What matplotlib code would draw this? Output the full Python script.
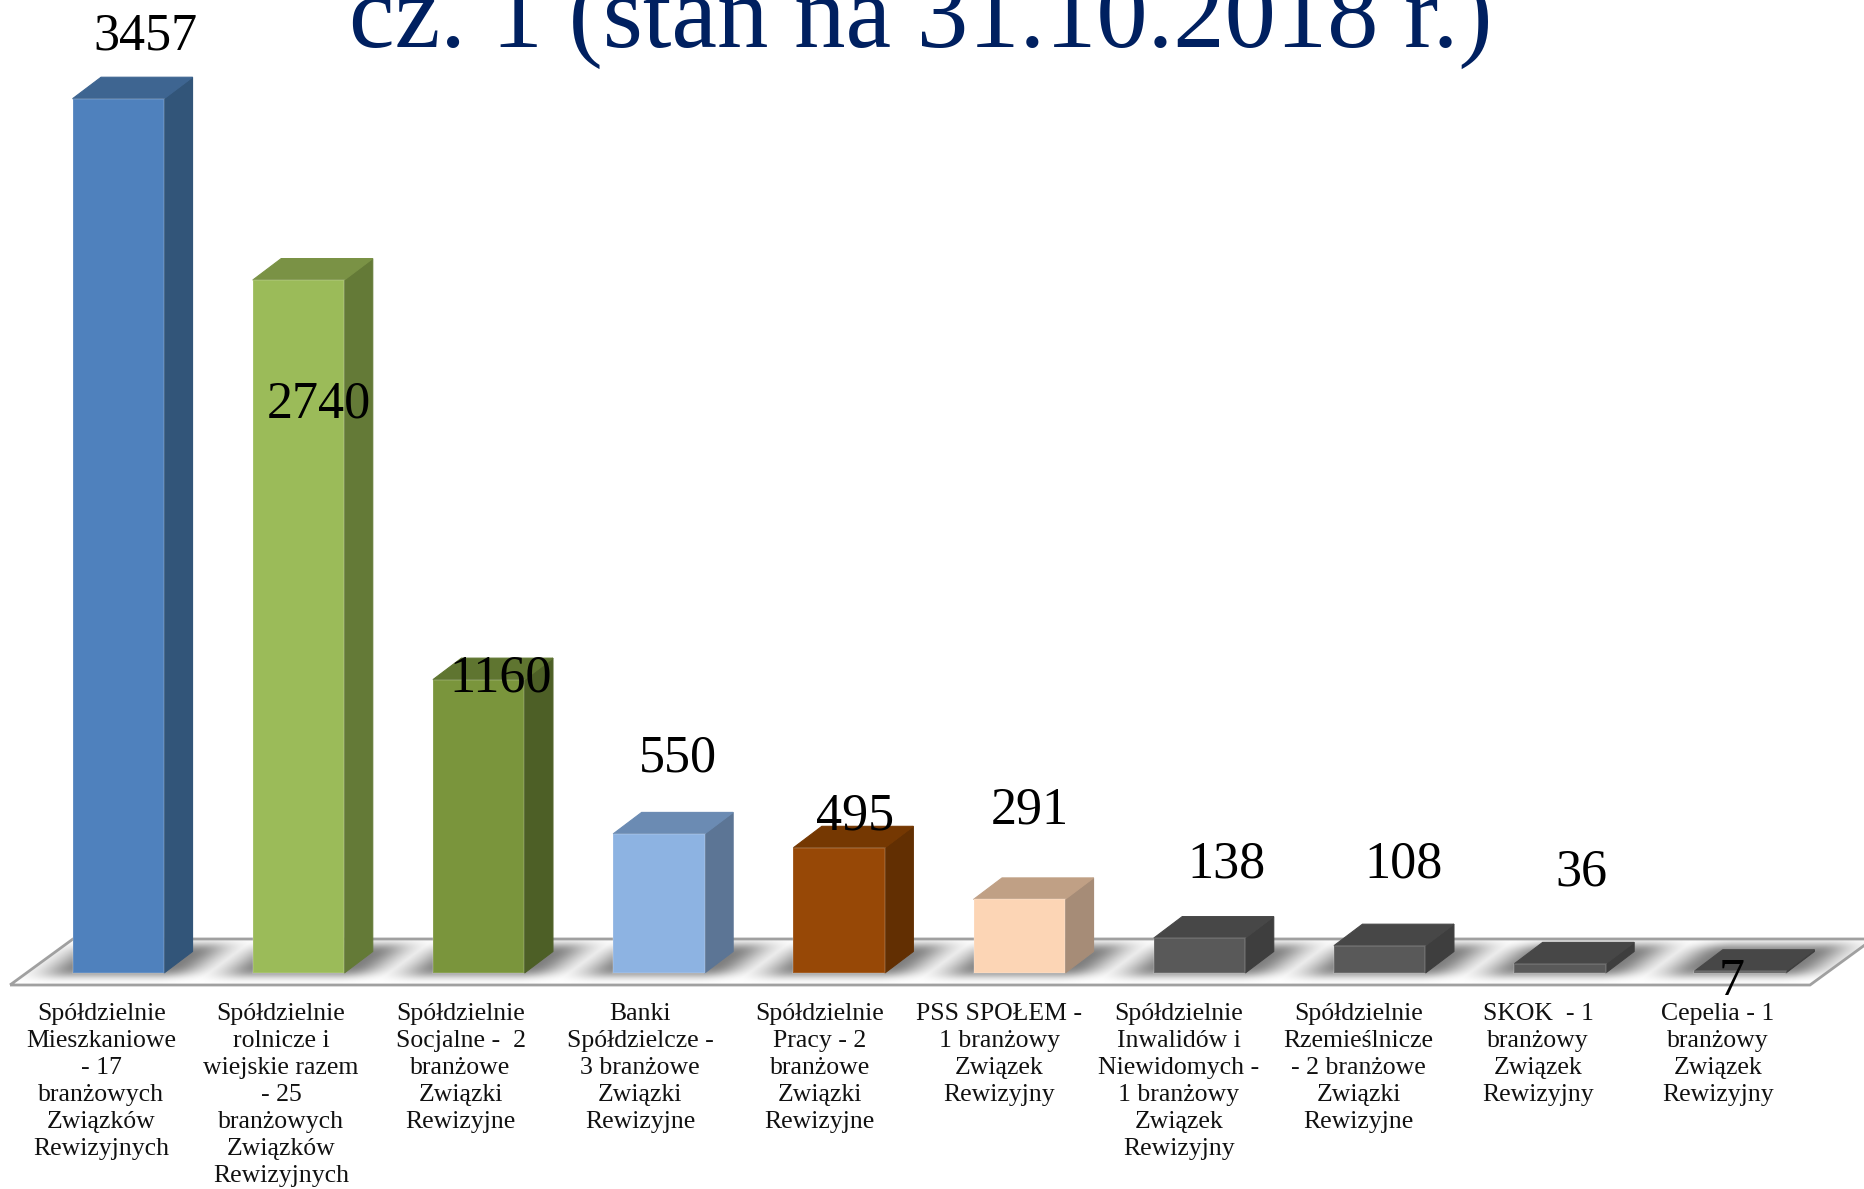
import numpy as np
import matplotlib
matplotlib.use('Agg')
import matplotlib.pyplot as plt
from matplotlib.patches import Polygon

title = 'cz. 1 (stan na 31.10.2018 r.)'
values = [3457, 2740, 1160, 550, 495, 291, 138, 108, 36, 7]
categories = [
    'Spółdzielnie\nMieszkaniowe\n- 17\nbranżowych\nZwiązków\nRewizyjnych',
    'Spółdzielnie\nrolnicze i\nwiejskie razem\n- 25\nbranżowych\nZwiązków\nRewizyjnych',
    'Spółdzielnie\nSocjalne -  2\nbranżowe\nZwiązki\nRewizyjne',
    'Banki\nSpółdzielcze -\n3 branżowe\nZwiązki\nRewizyjne',
    'Spółdzielnie\nPracy - 2\nbranżowe\nZwiązki\nRewizyjne',
    'PSS SPOŁEM -\n1 branżowy\nZwiązek\nRewizyjny',
    'Spółdzielnie\nInwalidów i\nNiewidomych -\n1 branżowy\nZwiązek\nRewizyjny',
    'Spółdzielnie\nRzemieślnicze\n- 2 branżowe\nZwiązki\nRewizyjne',
    'SKOK  - 1\nbranżowy\nZwiązek\nRewizyjny',
    'Cepelia - 1\nbranżowy\nZwiązek\nRewizyjny',
]
front_colors = ['#4f81bd', '#9bbb59', '#7a953c', '#8db3e2', '#974806',
                '#fcd5b5', '#595959', '#595959', '#595959', '#595959']
side_colors = ['#325579', '#647a37', '#4d5f26', '#5c7595', '#622f02',
               '#a68c77', '#3e3e3e', '#3e3e3e', '#3e3e3e', '#3e3e3e']
top_colors = ['#3e6591', '#7a9245', '#5f7530', '#6b8bb3', '#753802',
              '#c0a085', '#474747', '#474747', '#474747', '#474747']

W, H = 1864, 1189
px_per_cat = 180.2
px_per_val = 0.2529
x0_px = 118.3   # first bar centre
y0_px = 973     # base of the bars

fig = plt.figure(figsize=(W / 100, H / 100), dpi=100, facecolor='white')
ax = fig.add_axes([0, 0, 1, 1])
ax.axis('off')

bar_w = 91.5 / px_per_cat
dx = 28.5 / px_per_cat
dy = 21.5 / px_per_val
floor_front = -12 / px_per_val
floor_back = 34 / px_per_val
floor_dx = 63 / px_per_cat
floor_left = (10 - x0_px) / px_per_cat
floor_right = (1810 - x0_px) / px_per_cat
xs = np.arange(len(values))

xlim = (-x0_px / px_per_cat, (W - x0_px) / px_per_cat)
ylim = ((y0_px - H) / px_per_val, y0_px / px_per_val)

# floor with the soft slanted shadows
gx = np.linspace(xlim[0], xlim[1], 1400)
gy = np.linspace(floor_front, floor_back, 120)
X, Y = np.meshgrid(gx, gy)
U = X - Y * dx / dy
dist = np.min([np.maximum(np.abs(U - i) - bar_w / 2, 0) for i in xs], axis=0)
shade = np.exp(-(dist / 0.18) ** 2)
band = np.exp(-((Y - 13 / px_per_val) / (17 / px_per_val)) ** 4)
gray = 1 - 0.5 * shade * band
floor_pts = [(floor_left, floor_front), (floor_right, floor_front),
             (floor_right + floor_dx, floor_back), (floor_left + floor_dx, floor_back)]
im = ax.imshow(gray, extent=(gx[0], gx[-1], floor_front, floor_back), origin='lower',
               cmap='gray', vmin=0, vmax=1, aspect='auto', interpolation='bilinear', zorder=1)
floor = Polygon(floor_pts, closed=True, facecolor='none', edgecolor='#a0a0a0',
                linewidth=2, joinstyle='miter', zorder=2)
ax.add_patch(floor)
im.set_clip_path(floor)

# bars: front from ax.bar, top and side as sheared polygons
bars = ax.bar(xs, values, width=bar_w, color=front_colors, zorder=4,
              edgecolor=(1, 1, 1, 0.14), linewidth=1.2)
for i, v in enumerate(values):
    l, r = i - bar_w / 2, i + bar_w / 2
    ax.add_patch(Polygon([(r, 0), (r + dx, dy), (r + dx, v + dy), (r, v)],
                         facecolor=side_colors[i], edgecolor=side_colors[i], lw=0.8, zorder=3))
    ax.add_patch(Polygon([(l, v), (r, v), (r + dx, v + dy), (l + dx, v + dy)],
                         facecolor=top_colors[i], edgecolor=top_colors[i], lw=0.8, zorder=3))

ax.set_xlim(xlim)
ax.set_ylim(ylim)

serif = ['Liberation Serif', 'DejaVu Serif']

# category labels under the floor
for i, c in enumerate(categories):
    ax.text(i * 0.9967 - 17 / px_per_cat, (y0_px - 1003) / px_per_val, c, ha='center', va='top',
            family=serif, fontsize=18.5, linespacing=1.29, color='#111111', zorder=6)

# value labels sit at hand-placed spots, as in the original
label_px = [(145, 36), (319, 404), (501, 679), (678, 758), (855, 817),
            (1030, 811), (1227, 865), (1404, 865), (1581, 872), (1732, 982)]
for v, (lx, ly) in zip(values, label_px):
    fig.text(lx / W, 1 - ly / H, str(v), ha='center', va='center', family=serif,
             fontsize=37.5, color='black', zorder=7)

fig.text(921 / W, 1 - 47 / H, title, ha='center', va='baseline', family=serif,
         fontsize=74, color='#002060', zorder=7)

fig.savefig('out.png', dpi=100)
